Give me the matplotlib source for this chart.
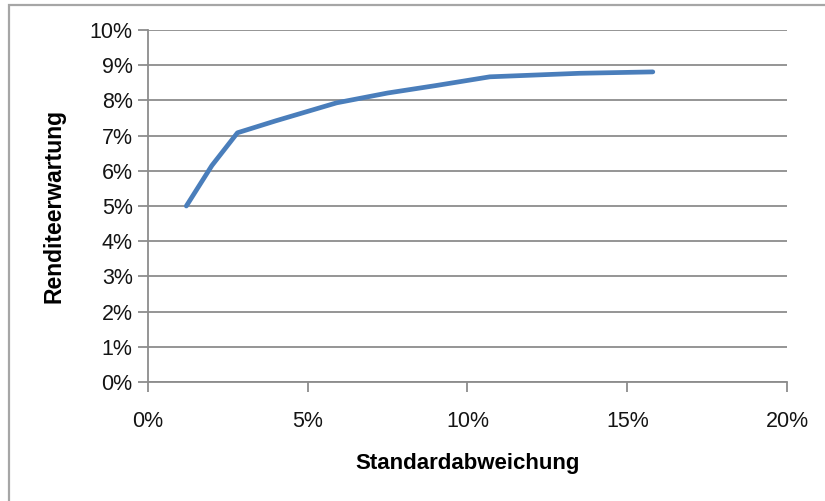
import matplotlib
matplotlib.use("Agg")
import matplotlib.pyplot as plt
from matplotlib.patches import Rectangle
from matplotlib.ticker import FuncFormatter, MultipleLocator

# Efficient frontier: standard deviation vs. expected return (in percent)
std_dev = [1.2, 2.0, 2.8, 4.0, 5.9, 7.5, 9.0, 10.7, 13.5, 15.8]
exp_return = [5.0, 6.15, 7.08, 7.42, 7.93, 8.21, 8.42, 8.67, 8.77, 8.81]

x_label = "Standardabweichung"
y_label = "Renditeerwartung"

plt.rcParams["font.family"] = ["Liberation Sans", "DejaVu Sans"]

W, H = 825, 501
fig = plt.figure(figsize=(W / 100, H / 100), dpi=100)
fig.patch.set_facecolor("white")

# outer chart-area frame (left and top edges visible)
fig.patches.append(Rectangle((9 / W, -0.05), 1.2, 1 - 5 / H + 0.05,
                             transform=fig.transFigure, fill=False,
                             edgecolor="#a6a6a6", linewidth=1.6))

ax = fig.add_axes([148 / W, 1 - 382 / H, (787 - 148) / W, (382 - 30) / H])

grid_col = "#8c8c8c"
ax.plot(std_dev, exp_return, color="#4a7ebb", linewidth=3.4,
        solid_capstyle="round", solid_joinstyle="round", zorder=3)

ax.set_xlim(0, 20)
ax.set_ylim(0, 10)
ax.xaxis.set_major_locator(MultipleLocator(5))
ax.yaxis.set_major_locator(MultipleLocator(1))
pct = FuncFormatter(lambda v, _: f"{v:.0f}%")
ax.xaxis.set_major_formatter(pct)
ax.yaxis.set_major_formatter(pct)

ax.grid(axis="y", color=grid_col, linewidth=1.3)
ax.set_axisbelow(True)
for side in ("top", "right"):
    ax.spines[side].set_visible(False)
for side in ("left", "bottom"):
    ax.spines[side].set_color(grid_col)
    ax.spines[side].set_linewidth(1.3)

ax.tick_params(axis="both", colors=grid_col, width=1.3, length=7,
               labelsize=15.5, labelcolor="#141414")
ax.tick_params(axis="x", pad=14)
ax.tick_params(axis="y", pad=4)

ax.set_xlabel(x_label, fontsize=16, fontweight="bold", va="center")
ax.xaxis.set_label_coords(0.5, -(463 - 382) / 352)
ax.set_ylabel(y_label, fontsize=16.5, fontweight="bold", va="center")
ax.yaxis.set_label_coords(-(148 - 54) / 639, 0.5)

fig.savefig("out.png", dpi=100, facecolor="white")
